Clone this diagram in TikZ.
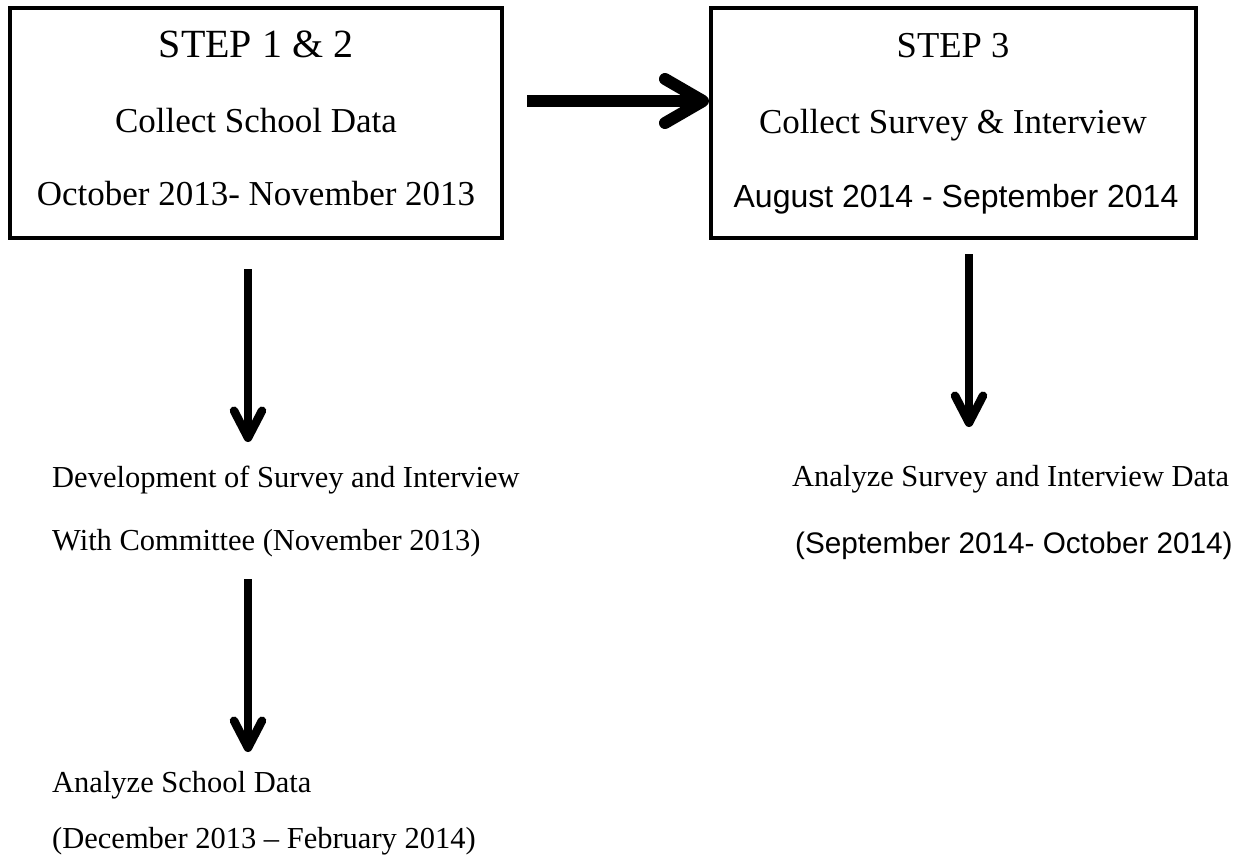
\documentclass[tikz,border=0pt]{standalone}
\usepackage{fontspec}
\setmainfont{Liberation Serif}
\newfontfamily\arialf{Liberation Sans}
\usetikzlibrary{arrows.meta}
\begin{document}
\begin{tikzpicture}[x=1pt,y=-1pt,
  stepbox/.style={draw,line width=3.5pt,inner sep=0pt,minimum width=492pt,minimum height=230pt},
  big/.style={inner sep=0pt,anchor=base,font=\fontsize{35}{40}\selectfont},
  bigsans/.style={inner sep=0pt,anchor=base,font=\arialf\fontsize{32}{36}\selectfont},
  small/.style={inner sep=0pt,anchor=base west,font=\fontsize{30.5}{34}\selectfont},
  smallsans/.style={inner sep=0pt,anchor=base west,font=\arialf\fontsize{29.7}{34}\selectfont},
  harrow/.style={line width=12pt,-{Straight Barb[length=38pt,width=44pt,round]}},
  varrow/.style={line width=8.5pt,-{Straight Barb[length=27pt,width=28pt,round]}}]
\useasboundingbox (0,0) rectangle (1249,864);
\fill[white] (0,0) rectangle (1249,864);
% boxes
\node[stepbox] (b1) at (256,123) {};
\node[stepbox,minimum width=485pt] (b2) at (953.5,123) {};
% box texts
\node[big,font=\fontsize{40}{44}\selectfont] (s1a) at (256,58) {STEP 1 \& 2};
\node[big] (s1b) at (256,132) {Collect School Data};
\node[big] (s1c) at (256,205) {October 2013- November 2013};
\node[big,font=\fontsize{36.5}{40}\selectfont] (s3a) at (953,58) {STEP 3};
\node[big] (s3b) at (953,133) {Collect Survey \& Interview};
\node[bigsans] (s3c) at (956,207) {August 2014 - September 2014};
% free texts
\node[small] (d1) at (52,487) {Development of Survey and Interview};
\node[small] (d2) at (52,550) {With Committee (November 2013)};
\node[small] (a1) at (792,486) {Analyze Survey and Interview Data};
\node[smallsans] (a2) at (795,553) {(September 2014- October 2014)};
\node[small] (c1) at (52,792) {Analyze School Data};
\node[small] (c2) at (52,848) {(December 2013 -- February 2014)};
% arrow ends
\coordinate (h1) at (527,101);
\coordinate (h2) at (709,101);
\coordinate (v1a) at (248,269);
\coordinate (v1b) at (248,442);
\coordinate (v2a) at (248,579);
\coordinate (v2b) at (248,752);
\coordinate (v3a) at (969,254);
\coordinate (v3b) at (969,427);
\draw[harrow] (h1) -- (h2);
\draw[varrow] (v1a) -- (v1b);
\draw[varrow] (v2a) -- (v2b);
\draw[varrow] (v3a) -- (v3b);
\end{tikzpicture}
\end{document}
